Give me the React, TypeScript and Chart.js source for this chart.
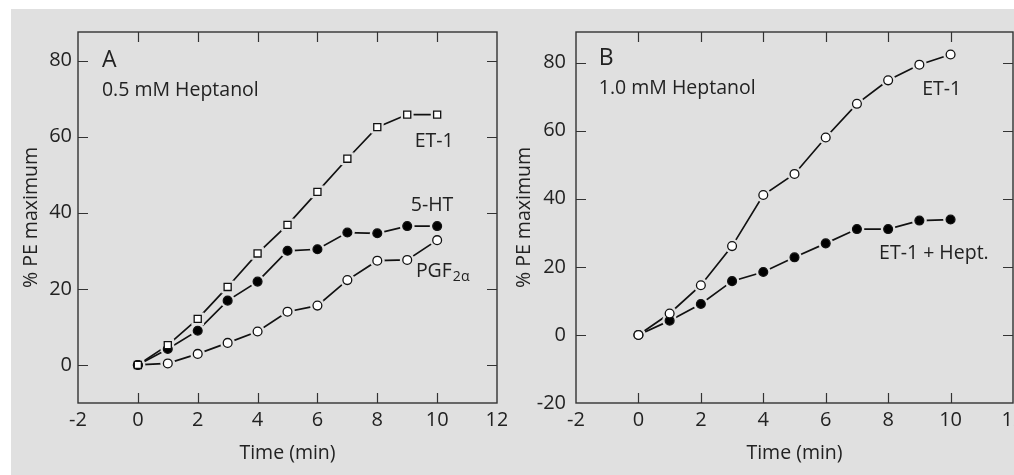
import React, { useEffect, useRef } from "react";
import { Chart, registerables } from "chart.js";

Chart.register(...registerables);

// ---------------- data ----------------
const timeMin = [0, 1, 2, 3, 4, 5, 6, 7, 8, 9, 10];

// Panel A: 0.5 mM Heptanol
const et1A = [0, 5.2, 12.1, 20.5, 29.3, 36.8, 45.5, 54.2, 62.5, 65.8, 65.8];
const ht5A = [0, 4.2, 9.0, 16.9, 21.9, 30.0, 30.4, 34.8, 34.6, 36.5, 36.5];
const pgfA = [0, 0.4, 2.9, 5.8, 8.8, 14.0, 15.6, 22.3, 27.4, 27.6, 32.8];

// Panel B: 1.0 mM Heptanol
const et1B = [0, 6.3, 14.6, 26.1, 41.1, 47.3, 58.0, 67.9, 74.8, 79.4, 82.4];
const et1HeptB = [0, 4.2, 9.1, 15.8, 18.5, 22.8, 26.9, 31.1, 31.1, 33.6, 33.9];

const xTickValues = [-2, 0, 2, 4, 6, 8, 10, 12];
const yTickValuesA = [0, 20, 40, 60, 80];
const yTickValuesB = [-20, 0, 20, 40, 60, 80];

const xTitle = "Time (min)";
const yTitle = "% PE maximum";

// text labels placed in data units
const labelsA = [
  { text: "A", x: -1.2, y: 78.4, size: 23 },
  { text: "0.5 mM Heptanol", x: -1.2, y: 70.8, size: 19.5 },
  { text: "ET-1", x: 9.25, y: 57.2, size: 19.5 },
  { text: "5-HT", x: 9.12, y: 40.4, size: 19.5 },
  { text: "PGF", sub: "2α", x: 9.29, y: 23.1, size: 19.5 },
];
const labelsB = [
  { text: "B", x: -1.27, y: 79.3, size: 23 },
  { text: "1.0 mM Heptanol", x: -1.27, y: 70.7, size: 19.5 },
  { text: "ET-1", x: 9.09, y: 70.4, size: 19.5 },
  { text: "ET-1 + Hept.", x: 7.71, y: 22.2, size: 19.5 },
];

// ---------------- styling ----------------
const FONT = "'Open Sans', 'DejaVu Sans', sans-serif";
const TEXT = "#222222";
const INK = "#111111";
const BG = "#e0e0e0";

type Series = { values: number[]; style: "rect" | "circle"; fill: string };

const seriesA: Series[] = [
  { values: et1A, style: "rect", fill: "#ffffff" },
  { values: ht5A, style: "circle", fill: "#000000" },
  { values: pgfA, style: "circle", fill: "#ffffff" },
];
const seriesB: Series[] = [
  { values: et1B, style: "circle", fill: "#ffffff" },
  { values: et1HeptB, style: "circle", fill: "#000000" },
];

function buildDatasets(series: Series[]) {
  const ds: any[] = [];
  series.forEach((s) => {
    const pts = timeMin.map((t, i) => ({ x: t, y: s.values[i] }));
    const r = s.style === "rect" ? 5 : 4.4;
    ds.push({
      data: pts,
      showLine: true,
      borderColor: INK,
      borderWidth: 1.7,
      pointRadius: 0,
      order: 3,
    });
    ds.push({
      data: pts,
      showLine: false,
      pointStyle: s.style,
      pointRadius: s.style === "rect" ? r + 4 : r + 3,
      pointBackgroundColor: BG,
      pointBorderWidth: 0,
      order: 2,
    });
    ds.push({
      data: pts,
      showLine: false,
      pointStyle: s.style,
      pointRadius: r,
      pointBackgroundColor: s.fill,
      pointBorderColor: INK,
      pointBorderWidth: 1.3,
      order: 1,
    });
  });
  return ds;
}

function framePlugin() {
  return {
    id: "frameTicks",
    afterDatasetsDraw(chart: any) {
      const { ctx, chartArea: a, scales } = chart;
      const xs = scales.x;
      const ys = scales.y;
      const L = 10;
      ctx.save();
      ctx.strokeStyle = "#333333";
      ctx.lineWidth = 1.4;
      ctx.strokeRect(a.left, a.top, a.right - a.left, a.bottom - a.top);
      ctx.lineWidth = 1.2;
      ctx.beginPath();
      xs.ticks.forEach((t: any) => {
        if (t.value <= xs.min || t.value >= xs.max) return;
        const px = Math.round(xs.getPixelForValue(t.value)) + 0.5;
        ctx.moveTo(px, a.bottom);
        ctx.lineTo(px, a.bottom - L);
        ctx.moveTo(px, a.top);
        ctx.lineTo(px, a.top + L);
      });
      ys.ticks.forEach((t: any) => {
        if (t.value <= ys.min || t.value >= ys.max) return;
        const py = Math.round(ys.getPixelForValue(t.value)) + 0.5;
        ctx.moveTo(a.left, py);
        ctx.lineTo(a.left + L, py);
        ctx.moveTo(a.right, py);
        ctx.lineTo(a.right - L, py);
      });
      ctx.stroke();
      ctx.restore();
    },
  };
}

function textPlugin(labels: any[]) {
  return {
    id: "panelText",
    afterDraw(chart: any) {
      const { ctx, scales } = chart;
      ctx.save();
      ctx.fillStyle = TEXT;
      ctx.textAlign = "left";
      ctx.textBaseline = "alphabetic";
      labels.forEach((l) => {
        const px = scales.x.getPixelForValue(l.x);
        const py = scales.y.getPixelForValue(l.y);
        ctx.font = `${l.size}px ${FONT}`;
        ctx.fillText(l.text, px, py);
        if (l.sub) {
          const w = ctx.measureText(l.text).width;
          ctx.font = `${l.size * 0.72}px ${FONT}`;
          ctx.fillText(l.sub, px + w + 1, py + 4);
        }
      });
      ctx.restore();
    },
  };
}

type PanelCfg = {
  left: number;
  width: number;
  series: Series[];
  labels: any[];
  yMin: number;
  yMax: number;
  yTicks: number[];
  yAxisWidth: number;
  yTickPad: number;
  yTitlePad: number;
  rightPad: number;
};

const TOP = 9;
const H = 466;

function Panel({ cfg }: { cfg: PanelCfg }) {
  const ref = useRef<HTMLCanvasElement>(null);
  useEffect(() => {
    const chart = new Chart(ref.current as HTMLCanvasElement, {
      type: "scatter",
      data: { datasets: buildDatasets(cfg.series) },
      options: {
        responsive: false,
        animation: false,
        devicePixelRatio: 1,
        layout: { padding: { left: 0, top: 23, right: cfg.rightPad, bottom: 0 } },
        plugins: { legend: { display: false }, tooltip: { enabled: false } },
        scales: {
          x: {
            type: "linear",
            position: "bottom",
            min: -2,
            max: 12,
            afterBuildTicks: (s: any) => {
              s.ticks = xTickValues.map((v) => ({ value: v }));
            },
            afterFit: (s: any) => {
              s.height = 72;
              s.paddingLeft = 0;
              s.paddingRight = 0;
            },
            grid: { display: false, drawTicks: false },
            border: { display: false },
            ticks: {
              color: TEXT,
              font: { size: 20, family: FONT },
              padding: 5,
              maxRotation: 0,
              autoSkip: false,
            },
            title: {
              display: true,
              text: xTitle,
              color: TEXT,
              font: { size: 19.5, family: FONT },
              padding: { top: 0, bottom: 10 },
            },
          },
          y: {
            type: "linear",
            position: "left",
            min: cfg.yMin,
            max: cfg.yMax,
            afterBuildTicks: (s: any) => {
              s.ticks = cfg.yTicks.map((v) => ({ value: v }));
            },
            afterFit: (s: any) => {
              s.width = cfg.yAxisWidth;
              s.paddingTop = 0;
              s.paddingBottom = 0;
            },
            grid: { display: false, drawTicks: false },
            border: { display: false },
            ticks: {
              color: TEXT,
              font: { size: 20, family: FONT },
              padding: cfg.yTickPad,
              autoSkip: false,
            },
            title: {
              display: true,
              text: yTitle,
              color: TEXT,
              font: { size: 19.5, family: FONT },
              padding: { top: cfg.yTitlePad, bottom: 0 },
            },
          },
        },
      },
      plugins: [framePlugin(), textPlugin(cfg.labels)],
    } as any);
    return () => chart.destroy();
  }, []);
  return (
    <canvas
      ref={ref}
      width={cfg.width}
      height={H}
      style={{ position: "absolute", left: cfg.left, top: TOP, width: cfg.width, height: H }}
    />
  );
}

const panelA: PanelCfg = {
  left: 11,
  width: 496,
  series: seriesA,
  labels: labelsA,
  yMin: -10,
  yMax: 87.5,
  yTicks: yTickValuesA,
  yAxisWidth: 67,
  yTickPad: 6,
  yTitlePad: 9,
  rightPad: 10,
};

const panelB: PanelCfg = {
  left: 507,
  width: 518,
  series: seriesB,
  labels: labelsB,
  yMin: -20,
  yMax: 89,
  yTicks: yTickValuesB,
  yAxisWidth: 69,
  yTickPad: 10,
  yTitlePad: 6,
  rightPad: 12,
};

export default function App() {
  return (
    <div
      style={{
        position: "absolute",
        left: 0,
        top: 0,
        width: 1014,
        height: 475,
        overflow: "hidden",
        background: "#ffffff",
      }}
    >
      <div style={{ position: "absolute", left: 11, top: 9, right: 0, bottom: 0, background: BG }} />
      <Panel cfg={panelA} />
      <Panel cfg={panelB} />
    </div>
  );
}
